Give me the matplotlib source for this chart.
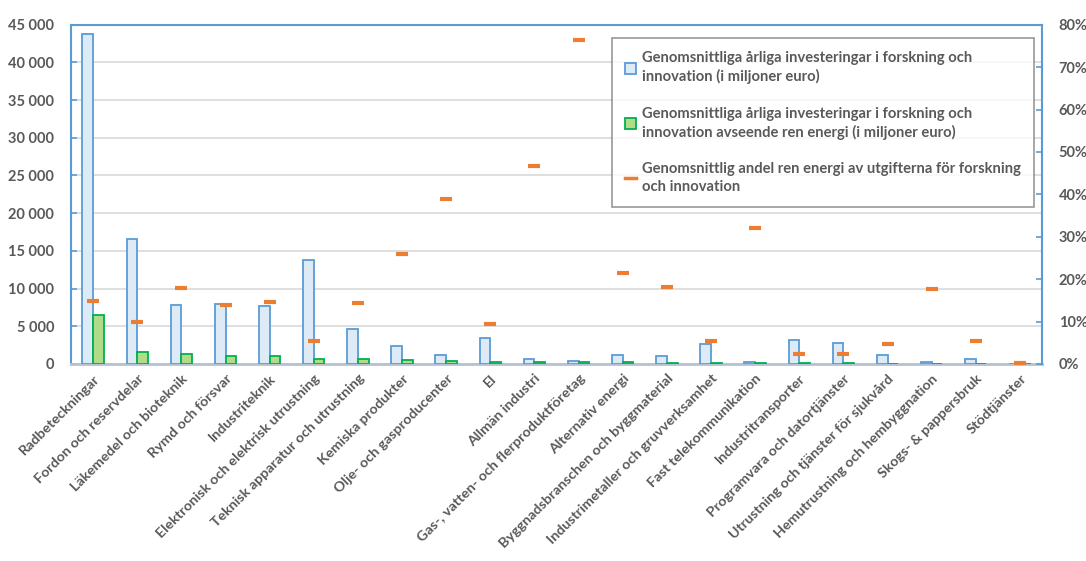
import matplotlib.pyplot as plt
from matplotlib.patches import Patch
from matplotlib.lines import Line2D
from matplotlib.ticker import FuncFormatter

plt.rcParams['font.family'] = ['Lato', 'DejaVu Sans']

# Sectors
categories = [
    'Radbeteckningar', 'Fordon och reservdelar', 'Läkemedel och bioteknik',
    'Rymd och försvar', 'Industriteknik', 'Elektronisk och elektrisk utrustning',
    'Teknisk apparatur och utrustning', 'Kemiska produkter', 'Olje- och gasproducenter',
    'El', 'Allmän industri', 'Gas-, vatten- och flerproduktföretag', 'Alternativ energi',
    'Byggnadsbranschen och byggmaterial', 'Industrimetaller och gruvverksamhet',
    'Fast telekommunikation', 'Industritransporter', 'Programvara och datortjänster',
    'Utrustning och tjänster för sjukvård', 'Hemutrustning och hembyggnation',
    'Skogs- & pappersbruk', 'Stödtjänster',
]

# Average yearly R&I investment (million euro)
total_ri = [43800, 16600, 7810, 7990, 7630, 13850, 4660, 2440, 1240, 3500, 670,
            380, 1230, 1060, 2650, 270, 3180, 2740, 1230, 300, 660, 10]
# of which clean energy (million euro)
clean_ri = [6440, 1640, 1380, 1110, 1070, 710, 620, 580, 440, 310, 300,
            290, 270, 190, 150, 90, 80, 70, 60, 50, 35, 0]
# clean energy share (%)
clean_share = [14.75, 9.8, 17.8, 14.0, 14.5, 5.5, 14.3, 25.9, 38.9, 9.5, 46.7,
               76.5, 21.4, 18.1, 5.5, 32.0, 2.45, 2.45, 4.6, 17.6, 5.3, 0.2]

lbl_total = 'Genomsnittliga årliga investeringar i forskning och\ninnovation (i miljoner euro)'
lbl_clean = 'Genomsnittliga årliga investeringar i forskning och\ninnovation avseende ren energi (i miljoner euro)'
lbl_share = 'Genomsnittlig andel ren energi av utgifterna för forskning\noch innovation'

txt = '#595959'
blue_edge = '#5B9BD5'
blue_fill = '#DDEBF7'
green_edge = '#00B050'
green_fill = '#B0DB88'
orange = '#ED7D31'

fig = plt.figure(figsize=(10.86, 5.61), dpi=100)
ax = fig.add_axes([0.0654, 0.3512, 0.8941, 0.6048])

x = list(range(len(categories)))
w = 0.242
ax.bar([i - w / 2 for i in x], total_ri, w, color=blue_fill, edgecolor=blue_edge,
       linewidth=1.3, zorder=3)
ax.bar([i + w / 2 for i in x], clean_ri, w, color=green_fill, edgecolor=green_edge,
       linewidth=1.3, zorder=3)

ax.set_xlim(-0.5, len(categories) - 0.5)
ax.set_ylim(0, 45000)
ax.set_yticks(range(0, 45001, 5000))
ax.yaxis.set_major_formatter(FuncFormatter(lambda v, p: f'{int(v):,}'.replace(',', ' ')))
ax.grid(axis='y', color='#D9D9D9', linewidth=1.2, zorder=0)
ax.set_axisbelow(True)

ax.set_xticks(x)
ax.set_xticklabels(categories, rotation=45, ha='right', rotation_mode='anchor',
                   fontsize=10.3, fontweight='bold', color=txt)
ax.tick_params(axis='x', length=0, pad=6)
ax.tick_params(axis='y', direction='in', length=4, color=blue_edge, width=1.2,
               labelsize=10.5, labelcolor=txt, pad=12)
for t in ax.get_yticklabels():
    t.set_fontweight('bold')

for s in ['left', 'top']:
    ax.spines[s].set_color(blue_edge)
    ax.spines[s].set_linewidth(1.5)
ax.spines['right'].set_visible(False)
ax.spines['bottom'].set_color('#B4C2D4')
ax.spines['bottom'].set_linewidth(2)

ax2 = ax.twinx()
ax2.plot(x, clean_share, linestyle='none', marker='_', markersize=8.8,
         markeredgewidth=3, color=orange, zorder=5)
ax2.set_ylim(0, 80)
ax2.set_yticks(range(0, 81, 10))
ax2.yaxis.set_major_formatter(FuncFormatter(lambda v, p: f'{int(v)}%'))
ax2.tick_params(axis='y', direction='in', length=4, color=blue_edge, width=1.2,
                labelsize=10.5, labelcolor=txt, pad=12)
for t in ax2.get_yticklabels():
    t.set_fontweight('bold')
for s in ['left', 'top', 'bottom']:
    ax2.spines[s].set_visible(False)
ax2.spines['right'].set_color(blue_edge)
ax2.spines['right'].set_linewidth(1.5)

handles = [
    Patch(facecolor=blue_fill, edgecolor=blue_edge, linewidth=1.3, label=lbl_total),
    Patch(facecolor=green_fill, edgecolor=green_edge, linewidth=1.3, label=lbl_clean),
    Line2D([], [], color=orange, linewidth=2.5, label=lbl_share),
]
leg = ax2.legend(handles=handles, loc='upper left', bbox_to_anchor=(0.557, 0.961),
                 prop={'weight': 'bold', 'size': 10.6}, labelcolor=txt,
                 frameon=True, fancybox=False, edgecolor='#7F7F7F',
                 handlelength=0.75, handleheight=0.75, handletextpad=0.4,
                 labelspacing=1.5, borderpad=0.9, borderaxespad=0)
leg.get_frame().set_linewidth(1.2)
for t in leg.get_texts():
    t.set_linespacing(1.35)

fig.savefig('out.png', dpi=100)
